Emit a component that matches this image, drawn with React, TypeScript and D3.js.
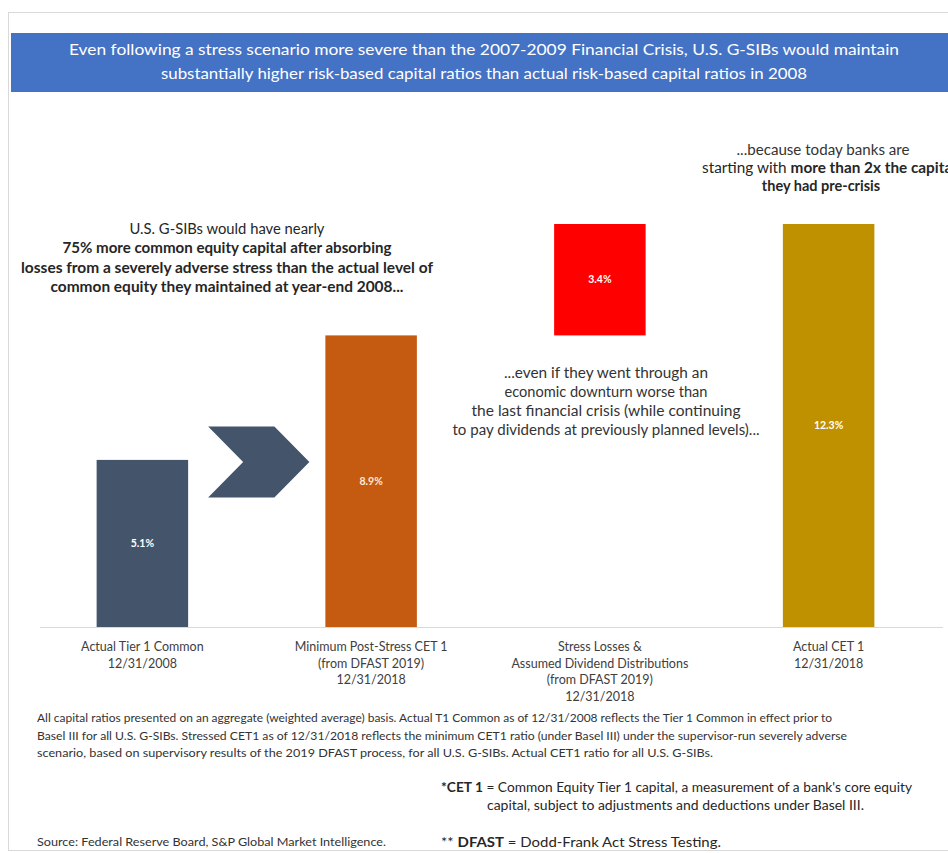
import React from "react";
import * as d3 from "d3";

const categories = ["Actual Tier 1 Common", "Minimum Post-Stress CET 1", "Stress Losses", "Actual CET 1"];
const categoryLines = [
  ["Actual Tier 1 Common", "12/31/2008"],
  ["Minimum Post-Stress CET 1", "(from DFAST 2019)", "12/31/2018"],
  ["Stress Losses &", "Assumed Dividend Distributions", "(from DFAST 2019)", "12/31/2018"],
  ["Actual CET 1", "12/31/2018"],
];
const values = [5.1, 8.9, 3.4, 12.3];
const bases = [0, 0, 8.9, 0];
const valueLabels = ["5.1%", "8.9%", "3.4%", "12.3%"];
const barColors = ["#44546A", "#C55A11", "#FF0000", "#BF9000"];

const headerLines = [
  "Even following a stress scenario more severe than the 2007-2009 Financial Crisis, U.S. G-SIBs would maintain",
  "substantially higher risk-based capital ratios than actual risk-based capital ratios in 2008",
];
const leftNote = [
  { t: "U.S. G-SIBs would have nearly", b: false },
  { t: "75% more common equity capital after absorbing", b: true },
  { t: "losses from a severely adverse stress than the actual level of", b: true },
  { t: "common equity they maintained at year-end 2008...", b: true },
];
const leftNoteWidths = [195, 329, 412, 353];
const midNote = [
  "...even if they went through an",
  "economic downturn worse than",
  "the last financial crisis (while continuing",
  "to pay dividends at previously planned levels)...",
];
const midNoteWidths = [204, 203, 269, 307];
const footnote = [
  "All capital ratios presented on an aggregate (weighted average) basis.  Actual T1 Common as of 12/31/2008 reflects the Tier 1 Common in effect prior to",
  "Basel III for all U.S. G-SIBs. Stressed CET1 as of 12/31/2018 reflects the minimum CET1 ratio (under Basel III) under the supervisor-run severely adverse",
  "scenario, based on supervisory results of the 2019 DFAST process, for all U.S. G-SIBs.  Actual CET1 ratio for all U.S. G-SIBs.",
];
const footnoteWidths = [795, 810, 676];

const W = 948;
const H = 853;
const FONT = "Lato, 'Open Sans', 'Liberation Sans', sans-serif";

export default function App() {
  const x = d3.scaleBand<string>().domain(categories).range([28, 943]).paddingInner(0.6).paddingOuter(0.3);
  const tops = values.map((v, i) => v + bases[i]);
  const y = d3.scaleLinear().domain([0, d3.max(tops) as number]).range([627, 224]);
  const bw = x.bandwidth();

  // chevron between first and second bars
  const cx0 = (x(categories[0]) as number) + bw + 20;
  const cx1 = (x(categories[1]) as number) - 16;
  const cy = y(values[0]) + 2;
  const ch = 35.5;
  const notch = 35;
  const chevron = [
    [cx0, cy - ch],
    [cx1 - notch, cy - ch],
    [cx1, cy],
    [cx1 - notch, cy + ch],
    [cx0, cy + ch],
    [cx0 + notch, cy],
  ];

  return (
    <div style={{ position: "absolute", left: 0, top: 0 }}>
      <svg width={W} height={H} style={{ display: "block", background: "#fff" }} fontFamily={FONT}>
        <rect x={8.5} y={12.5} width={980} height={838} fill="#fff" stroke="#d9d9d9" />
        <rect x={11} y={33} width={960} height={59} fill="#4472C4" />
        {headerLines.map((t, i) => (
          <text key={i} x={484} y={50 + i * 24} dy="0.35em" textAnchor="middle" fill="#fff" fontSize={15}
            textLength={i === 0 ? 830 : 646} lengthAdjust="spacingAndGlyphs">{t}</text>
        ))}

        {/* baseline */}
        <line x1={x.range()[0] + 12} x2={x.range()[1]} y1={y(0) + 0.5} y2={y(0) + 0.5} stroke="#d9d9d9" />

        {/* bars */}
        {categories.map((c, i) => (
          <rect key={c} x={x(c)} y={y(bases[i] + values[i])} width={bw}
            height={y(bases[i]) - y(bases[i] + values[i])} fill={barColors[i]} />
        ))}
        {categories.map((c, i) => (
          <text key={c + "v"} x={(x(c) as number) + bw / 2} y={(y(bases[i]) + y(bases[i] + values[i])) / 2}
            dy="0.35em" textAnchor="middle" fill={i === 1 ? "#fde9d9" : "#fff"} fontSize={10.5} fontWeight={700}>
            {valueLabels[i]}
          </text>
        ))}

        <polygon points={chevron.map((p) => p.join(",")).join(" ")} fill="#44546A" />

        {/* category labels */}
        {categories.map((c, i) =>
          categoryLines[i].map((t, j) => (
            <text key={c + j} x={(x(c) as number) + bw / 2} y={647 + j * 16.5} dy="0.35em" textAnchor="middle"
              fill="#404040" fontSize={12.5}>{t}</text>
          ))
        )}

        {/* left annotation */}
        {leftNote.map((l, i) => (
          <text key={i} x={227} y={229 + i * 19.3} dy="0.35em" textAnchor="middle" fill="#262626"
            fontSize={14.5} fontWeight={l.b ? 700 : 400} textLength={leftNoteWidths[i]}
            lengthAdjust="spacingAndGlyphs">{l.t}</text>
        ))}

        {/* middle annotation */}
        {midNote.map((t, i) => (
          <text key={i} x={606} y={373 + i * 19} dy="0.35em" textAnchor="middle" fill="#333" fontSize={14.5}
            textLength={midNoteWidths[i]} lengthAdjust="spacingAndGlyphs">{t}</text>
        ))}

        {/* right annotation */}
        <text x={823} y={150} dy="0.35em" textAnchor="middle" fill="#333" fontSize={14.5}
          textLength={173} lengthAdjust="spacingAndGlyphs">...because today banks are</text>
        <text x={702} y={168} dy="0.35em" fill="#262626" fontSize={14.5} textLength={254} lengthAdjust="spacingAndGlyphs">
          <tspan>starting with </tspan>
          <tspan fontWeight={700}>more than 2x the capital</tspan>
        </text>
        <text x={821} y={186} dy="0.35em" textAnchor="middle" fill="#262626" fontSize={14.5} fontWeight={700}>they had pre-crisis</text>

        {/* footnotes */}
        {footnote.map((t, i) => (
          <text key={i} x={37} y={718 + i * 17.5} dy="0.35em" fill="#333" fontSize={12}
            textLength={footnoteWidths[i]} lengthAdjust="spacingAndGlyphs">{t}</text>
        ))}
        <text x={441} y={787} dy="0.35em" fill="#262626" fontSize={13} textLength={471} lengthAdjust="spacingAndGlyphs">
          <tspan fontWeight={700}>*CET 1</tspan>
          <tspan> = Common Equity Tier 1 capital, a measurement of a bank's core equity</tspan>
        </text>
        <text x={487} y={805} dy="0.35em" fill="#262626" fontSize={13} textLength={377} lengthAdjust="spacingAndGlyphs">
          capital, subject to adjustments and deductions under Basel III.
        </text>
        <text x={37} y={842} dy="0.35em" fill="#333" fontSize={12} textLength={349} lengthAdjust="spacingAndGlyphs">
          Source:  Federal Reserve Board, S&amp;P Global Market Intelligence.
        </text>
        <text x={441} y={842} dy="0.35em" fill="#262626" fontSize={13} textLength={280} lengthAdjust="spacingAndGlyphs">
          <tspan>** </tspan>
          <tspan fontWeight={700}>DFAST</tspan>
          <tspan> = Dodd-Frank Act Stress Testing.</tspan>
        </text>
      </svg>
    </div>
  );
}
